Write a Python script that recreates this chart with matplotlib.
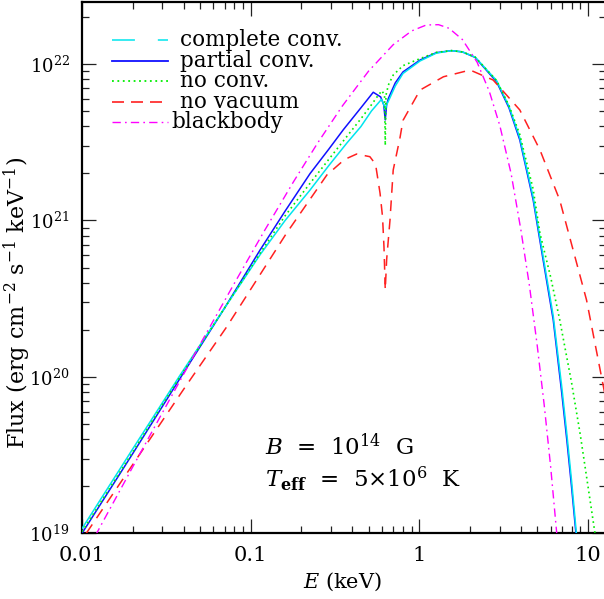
import numpy as np
import matplotlib
matplotlib.use("Agg")
import matplotlib.pyplot as plt
from matplotlib.lines import Line2D

plt.rcParams['font.family'] = ['DejaVu Serif']
plt.rcParams['mathtext.fontset'] = 'dejavuserif'

# ---------------- data (energy in keV, log10 flux in erg cm^-2 s^-1 keV^-1) -------------
E_partial = [0.01, 0.02, 0.0381, 0.07, 0.1135, 0.16, 0.225, 0.29, 0.354, 0.45, 0.533,
             0.59, 0.615, 0.628, 0.64, 0.655, 0.72, 0.80, 1.01, 1.26, 1.55, 1.8, 2.14,
             2.87, 3.4, 3.94, 4.73, 5.42, 6.22, 7.0, 7.5, 8.0, 8.6]
logF_partial = [19.0, 19.51, 19.99, 20.44, 20.81, 21.06, 21.30, 21.455, 21.58, 21.72, 21.82,
                21.79, 21.74, 21.643, 21.74, 21.78, 21.88, 21.95, 22.026, 22.073, 22.086, 22.078, 22.043,
                21.887, 21.72, 21.515, 21.131, 20.747, 20.364, 19.89, 19.59, 19.29, 18.93]

E_complete = [0.01, 0.02, 0.0381, 0.07, 0.1135, 0.16, 0.225, 0.29, 0.371, 0.45, 0.52,
              0.597, 0.615, 0.628, 0.64, 0.66, 0.72, 0.80, 1.01, 1.26, 1.55, 1.8, 2.14,
              2.87, 3.4, 3.94, 4.73, 5.42, 6.22, 7.0, 7.5, 8.0, 8.6]
logF_complete = [19.03, 19.54, 20.01, 20.44, 20.78, 21.0, 21.195, 21.35, 21.494, 21.6, 21.7,
                 21.775, 21.74, 21.71, 21.74, 21.77, 21.86, 21.94, 22.02, 22.07, 22.086, 22.078, 22.045,
                 21.895, 21.73, 21.53, 21.15, 20.77, 20.39, 19.93, 19.63, 19.33, 18.96]

E_noconv = [0.01, 0.02, 0.0381, 0.07, 0.1135, 0.16, 0.225, 0.29, 0.371, 0.45, 0.52, 0.57,
            0.60, 0.622, 0.628, 0.634, 0.655, 0.70, 0.80, 1.01, 1.26, 1.55, 1.8, 2.14,
            2.87, 3.4, 3.94, 4.73, 5.19, 6.0, 6.8, 8.0, 9.0, 10.0, 11.0, 11.5]
logF_noconv = [19.01, 19.52, 20.0, 20.44, 20.79, 21.03, 21.238, 21.39, 21.536, 21.65, 21.74, 21.80,
               21.83, 21.80, 21.48, 21.80, 21.866, 21.93, 21.99, 22.035, 22.075, 22.086, 22.078, 22.045,
               21.895, 21.735, 21.55, 21.2, 20.918, 20.64, 20.364, 19.96, 19.63, 19.3, 19.0, 18.85]

E_novac = [0.0106, 0.02, 0.04, 0.0721, 0.163, 0.283, 0.36, 0.425, 0.509, 0.55, 0.585,
           0.605, 0.617, 0.628, 0.64, 0.67, 0.70, 0.767, 0.80, 1.01, 1.39, 2.0, 2.74,
           3.94, 5.19, 6.8, 9.8, 12.8]
logF_novac = [19.0, 19.44, 19.92, 20.32, 20.918, 21.291, 21.39, 21.425, 21.408, 21.36, 21.174,
              21.024, 20.833, 20.556, 20.75, 21.003, 21.323, 21.526, 21.64, 21.834, 21.919, 21.962, 21.898,
              21.707, 21.451, 21.13, 20.492, 19.85]

E_bb = [0.012, 0.02, 0.03, 0.05, 0.08, 0.12, 0.18, 0.25, 0.35, 0.5, 0.7, 0.9, 1.1, 1.3,
        1.5, 1.8, 2.2, 2.6, 3.0, 3.5, 4.0, 4.5, 5.0, 5.5, 6.0, 6.5, 7.0]
logF_bb = [18.985, 19.425, 19.772, 20.206, 20.598, 20.930, 21.250, 21.497, 21.733, 21.955, 22.124,
           22.212, 22.250, 22.252, 22.229, 22.157, 22.012, 21.825, 21.607, 21.30, 20.94, 20.58,
           20.20, 19.82, 19.43, 19.02, 18.62]

labels = ["complete conv.", "partial conv.", "no conv.", "no vacuum", "blackbody"]
xtick_vals = [0.01, 0.1, 1, 10]
xtick_labels = ["0.01", "0.1", "1", "10"]
ytick_vals = [1e19, 1e20, 1e21, 1e22]
ytick_labels = ["$10^{19}$", "$10^{20}$", "$10^{21}$", "$10^{22}$"]

# ---------------- figure ----------------
W, H = 604, 599
fig = plt.figure(figsize=(W / 100, H / 100), dpi=100)
ax = fig.add_axes([82 / W, (H - 533.3) / H, 524 / W, 531.3 / H])
ax.set_xscale('log')
ax.set_yscale('log')
ax.set_xlim(0.01, 10 ** (1 + 18 / 168.7))
ax.set_ylim(1e19, 10 ** 22.397)

c_cyan = '#00e5ee'
c_blue = '#1010ff'
c_green = '#00ee00'
c_red = '#ff2020'
c_mag = '#ff00ff'

ax.plot(E_partial, 10 ** np.array(logF_partial), color=c_blue, lw=1.1, zorder=3)
ax.plot(E_complete, 10 ** np.array(logF_complete), color=c_cyan, lw=1.1, zorder=4)
ax.plot(E_noconv, 10 ** np.array(logF_noconv), color=c_green, lw=1.2,
        linestyle=(0, (1, 2)), zorder=5)
ax.plot(E_novac, 10 ** np.array(logF_novac), color=c_red, lw=1.1,
        linestyle=(0, (7, 5)), zorder=5)
ax.plot(E_bb, 10 ** np.array(logF_bb), color=c_mag, lw=1.0,
        linestyle=(0, (6, 3, 1.2, 3)), zorder=5)

# ticks
ax.set_xticks(xtick_vals)
ax.set_xticklabels(xtick_labels)
ax.set_yticks(ytick_vals)
ax.set_yticklabels(ytick_labels)
ax.tick_params(which='both', direction='in', top=True, right=True, color='#222222')
ax.tick_params(which='major', length=10, width=0.9)
ax.tick_params(which='minor', length=5, width=0.9)
ax.tick_params(axis='x', which='major', labelsize=15, pad=9)
ax.tick_params(axis='y', which='major', labelsize=13, pad=9)
for s in ax.spines.values():
    s.set_linewidth(1.6)

# legend (drawn manually to mimic original spacing)
leg_styles = [
    dict(color=c_cyan, lw=1.1, linestyle=(0, (15, 15))),
    dict(color=c_blue, lw=1.3, linestyle='-'),
    dict(color=c_green, lw=1.3, linestyle=(0, (1, 2))),
    dict(color=c_red, lw=1.2, linestyle=(0, (7.2, 4.2))),
    dict(color=c_mag, lw=1.0, linestyle=(0, (6, 3, 1.2, 3))),
]
row_px = [40, 60.5, 81, 101.5, 122]
text_x_px = [180, 180, 180, 180, 171]
for lab, st, ypx, txp in zip(labels, leg_styles, row_px, text_x_px):
    ya = (533.3 - ypx) / 531.3
    ax.add_line(Line2D([(112 - 82) / 524, (168 - 82) / 524], [ya, ya],
                       transform=ax.transAxes, **st))
    ax.text((txp - 82) / 524, (533.3 - ypx - 6) / 531.3, lab, transform=ax.transAxes,
            fontsize=15.5, va='baseline', ha='left')

# annotations
ax.text((265 - 82) / 524, (533.3 - 455) / 531.3, r"$B$  =  10$^{14}$  G",
        transform=ax.transAxes, fontsize=16.5, va='baseline', ha='left')
ax.text((265 - 82) / 524, (533.3 - 487) / 531.3, r"$T_{\mathbf{eff}}$  =  5$\times$10$^{6}$  K",
        transform=ax.transAxes, fontsize=16.5, va='baseline', ha='left')

# axis labels
fig.text(17 / W, 1 - 303 / H, r"Flux (erg cm$^{-2}$ s$^{-1}$ keV$^{-1}$)", rotation=90,
         ha='center', va='center', fontsize=16)
fig.text(342 / W, 1 - 582 / H, r"$E$ (keV)", ha='center', va='center', fontsize=15)

fig.savefig("out.png", dpi=100)
